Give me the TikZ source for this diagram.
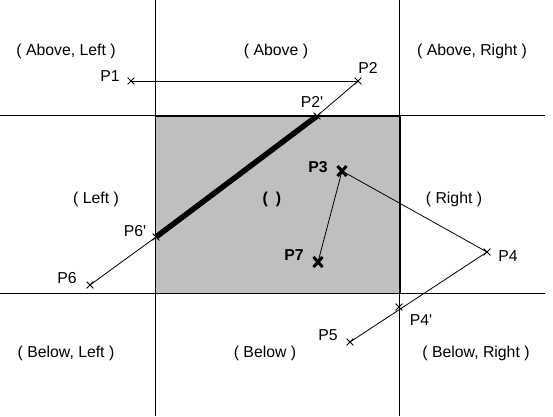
\documentclass[tikz,border=0pt]{standalone}
\usepackage{fontspec}
\setmainfont{Liberation Sans}
\usetikzlibrary{shapes.misc}
\tikzset{
  reg/.style={font=\fontsize{15.8}{17}\selectfont, inner sep=0pt},
  lbl/.style={font=\fontsize{15.8}{17}\selectfont, inner sep=0pt},
  blbl/.style={lbl, font=\fontsize{15.8}{17}\selectfont\bfseries},
  mk/.style={cross out, draw, line width=0.8pt, minimum size=6pt, inner sep=0pt},
  bmk/.style={cross out, draw, line width=3pt, minimum width=6pt, minimum height=7pt, inner sep=0pt},
  grid/.style={line width=1pt},
  seg/.style={line width=0.8pt},
}
\begin{document}
\begin{tikzpicture}[x=1pt, y=-1pt]
\useasboundingbox (0,0) rectangle (553,416);
% clipping window
\fill[black!25] (155,115) rectangle (399,293);
\draw[grid] (155,0) -- (155,416);
\draw[grid] (399,0) -- (399,416);
\draw[grid] (0,115) -- (545,115);
\draw[grid] (0,293) -- (545,293);
\draw[line width=2pt] (155,115.5) -- (399.5,115.5) -- (399.5,293);
% region codes
\node[reg] (al) at (66,51) {( Above, Left )};
\node[reg] (a)  at (276,51) {( Above )};
\node[reg] (ar) at (472,51) {( Above, Right )};
\node[reg] (l)  at (96,199) {( Left )};
\node[reg, font=\fontsize{15.8}{17}\selectfont\bfseries] (c) at (272,199) {(\hspace{8pt})};
\node[reg] (r)  at (454,199) {( Right )};
\node[reg] (bl) at (66,353) {( Below, Left )};
\node[reg] (b)  at (265,353) {( Below )};
\node[reg] (br) at (476,353) {( Below, Right )};
% points
\node[mk] (p1) at (131,81) {};
\node[mk] (p2) at (358,81) {};
\node[mk] (p2c) at (317,116) {};
\node[mk] (p6) at (90,285) {};
\node[mk] (p6c) at (156,237) {};
\node[bmk] (p3) at (342,171) {};
\node[bmk] (p7) at (318,262) {};
\node[mk] (p4) at (487,252) {};
\node[mk] (p5) at (350,342) {};
\node[mk] (p4c) at (399,307) {};
% point labels
\node[lbl] at (110,76) {P1};
\node[lbl] at (368,68) {P2};
\node[lbl] at (312,102) {P2\textquotesingle};
\node[lbl] at (67,278) {P6};
\node[lbl] at (135,231) {P6\textquotesingle};
\node[blbl] at (318,167) {P3};
\node[blbl] at (294,255) {P7};
\node[lbl] at (508,256) {P4};
\node[lbl] at (328,335) {P5};
\node[lbl] at (421,320) {P4\textquotesingle};
% segments
\draw[line width=1pt] (p1.center) -- (p2.center);
\draw[seg] (p2.center) -- (p2c.center);
\draw[line width=5.5pt] (p2c.center) -- (p6c.center);
\draw[seg] (p6c.center) -- (p6.center);
\draw[seg] (p3.center) -- (p7.center);
\draw[seg] (p3.center) -- (p4.center);
\draw[seg] (p4.center) -- (p5.center);
\end{tikzpicture}
\end{document}
